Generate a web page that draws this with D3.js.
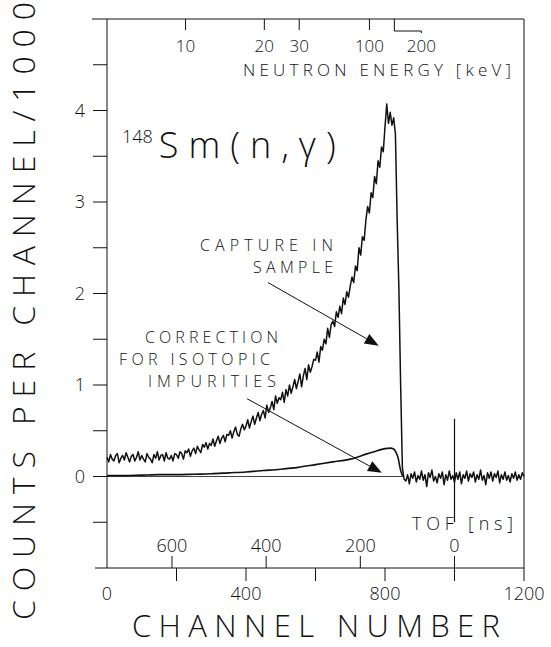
<!DOCTYPE html>
<html>
<head>
<meta charset="utf-8">
<script src="https://cdn.jsdelivr.net/npm/d3@7"></script>
<style>
  body { margin: 0; background: #fff; }
  svg text { font-family: "Open Sans", "DejaVu Sans", sans-serif; font-weight: 300; fill: #111; }
</style>
</head>
<body>
<div id="chart"></div>
<script>
// 148Sm(n,γ) TOF spectrum – capture in sample vs. isotopic-impurity correction

/* ── Data ── */
const CH_STEP = 5;   // capture spectrum sampled every 5 channels, 0..1200
const CAPTURE = [
  // 0 – 195
  0.21,0.16,0.24,0.19,0.17,0.23,0.25,0.15,0.20,0.23,
  0.18,0.26,0.21,0.16,0.22,0.24,0.17,0.21,0.27,0.18,
  0.23,0.19,0.16,0.25,0.21,0.19,0.15,0.24,0.20,0.27,
  0.18,0.23,0.24,0.17,0.26,0.20,0.19,0.23,0.17,0.25,
  // 200 – 395
  0.24,0.20,0.27,0.25,0.19,0.28,0.26,0.30,0.22,0.28,
  0.31,0.25,0.33,0.29,0.26,0.35,0.32,0.37,0.30,0.36,
  0.34,0.41,0.33,0.39,0.44,0.36,0.42,0.45,0.38,0.46,
  0.45,0.50,0.42,0.49,0.54,0.46,0.44,0.52,0.57,0.51,
  // 400 – 595
  0.55,0.62,0.53,0.60,0.66,0.57,0.64,0.70,0.61,0.68,
  0.72,0.64,0.78,0.70,0.75,0.82,0.73,0.88,0.80,0.86,
  0.84,0.92,0.81,0.95,0.88,1.00,0.91,0.98,1.06,0.96,
  1.04,1.12,0.98,1.10,1.18,1.06,1.22,1.14,1.20,1.28,
  // 600 – 795
  1.27,1.36,1.25,1.42,1.38,1.50,1.45,1.62,1.52,1.66,
  1.70,1.64,1.80,1.74,1.86,1.78,1.95,1.88,2.02,1.96,
  2.08,2.18,2.12,2.30,2.25,2.50,2.42,2.62,2.58,2.80,
  2.95,2.88,3.10,3.05,3.28,3.20,3.45,3.38,3.60,3.55,
  // 800 – 855
  3.82,4.07,3.86,3.98,3.84,3.92,3.74,2.80,2.05,1.00,0.10,-0.03,
  // 860 – 1200
  -0.05,0.02,-0.08,0.03,-0.02,0.05,-0.06,0.01,-0.03,0.06,
  -0.04,0.02,-0.11,0.04,-0.01,0.07,-0.05,0.00,-0.07,0.03,
  -0.02,0.05,-0.09,0.02,-0.04,0.06,-0.03,0.01,-0.06,0.04,
  -0.03,0.05,-0.08,0.02,-0.02,0.06,-0.05,0.03,-0.01,0.05,
  -0.06,0.02,-0.03,0.07,-0.04,0.01,-0.09,0.04,-0.02,0.05,
  -0.05,0.03,-0.01,0.06,-0.07,0.02,-0.03,0.05,-0.04,0.01,
  -0.06,0.03,-0.02,0.05,-0.04,0.02,-0.03,0.04,0.00
];
// gamma flash at TOF = 0 (channel 1000)
const FLASH_CH = 1000;
const FLASH_RANGE = [0.63, -0.50];

const CORR_CH  = [0, 50, 100, 150, 200, 250, 300, 350, 400, 450, 500, 550, 600, 650, 700, 750, 780, 800, 815, 825, 832, 838, 843, 848, 852];
const CORR_VAL = [0.01, 0.01, 0.015, 0.02, 0.02, 0.025, 0.03, 0.04, 0.05, 0.065, 0.08, 0.10, 0.13, 0.16, 0.19, 0.25, 0.285, 0.305, 0.31, 0.30, 0.26, 0.20, 0.10, 0.03, 0.0];

/* ── Axes ticks ── */
const CH_TICKS    = [0, 200, 400, 600, 800, 1000, 1200];
const CH_LABELS   = [0, 400, 800, 1200];
const Y_TICKS     = d3.range(-1, 5.01, 0.5);
const Y_LABELS    = [0, 1, 2, 3, 4];
const TOF_TICKS   = [600, 400, 200, 0];            // ns
const E_TICKS     = [10, 20, 30, 100, 200];        // keV
const CH_PER_NS   = 1.355;
const TOF0_CH     = 1000;
const FLIGHT_PATH = 0.79;                          // m

/* ── Layout ── */
const totalW = 551, totalH = 647;
const X0 = 107, X1 = 524, Y0 = 568, Y1 = 19;

const svg = d3.select("#chart").append("svg")
  .attr("width", totalW).attr("height", totalH);

const x = d3.scaleLinear().domain([0, 1200]).range([X0, X1]);
const y = d3.scaleLinear().domain([-1, 5]).range([Y0, Y1]);

// TOF (ns) → channel, neutron energy (keV) → TOF (ns)
const tofToCh = t => TOF0_CH - t * CH_PER_NS;
const energyToTof = e => 72.3 * FLIGHT_PATH / Math.sqrt(e / 1000);

const ink = "#111";

/* ── Frame ── */
const frame = svg.append("g").attr("stroke", ink).attr("stroke-width", 1).attr("fill", "none");
frame.append("line").attr("x1", X0).attr("x2", X0).attr("y1", Y1).attr("y2", Y0);
frame.append("line").attr("x1", X1).attr("x2", X1).attr("y1", Y1).attr("y2", Y0 + 13);
frame.append("line").attr("x1", X0 - 15).attr("x2", X1).attr("y1", Y1).attr("y2", Y1);
frame.append("line").attr("x1", X0 - 12).attr("x2", X1).attr("y1", Y0).attr("y2", Y0);

/* ── Left axis ── */
Y_TICKS.filter(v => v > -1 && v < 5).forEach(v => {
  frame.append("line").attr("x1", X0 - 14).attr("x2", X0).attr("y1", y(v)).attr("y2", y(v));
});
svg.append("g").selectAll("text").data(Y_LABELS).join("text")
  .attr("x", 80).attr("y", d => y(d) + 6)
  .attr("text-anchor", "middle").attr("font-size", 18)
  .text(d => d);

/* ── Bottom axis: channel number (ticks down) ── */
CH_TICKS.filter(c => c > 0 && c < 1200).forEach(c => {
  frame.append("line").attr("x1", x(c)).attr("x2", x(c)).attr("y1", Y0).attr("y2", Y0 + 13);
});
svg.append("g").selectAll("text").data(CH_LABELS).join("text")
  .attr("x", d => x(d)).attr("y", 600)
  .attr("text-anchor", "middle").attr("font-size", 18)
  .text(d => d);

/* ── TOF axis (ticks up from the bottom) ── */
TOF_TICKS.forEach(t => {
  frame.append("line").attr("x1", x(tofToCh(t))).attr("x2", x(tofToCh(t)))
    .attr("y1", Y0).attr("y2", Y0 - 12);
});
svg.append("g").selectAll("text").data(TOF_TICKS).join("text")
  .attr("x", d => x(tofToCh(d))).attr("y", 552)
  .attr("text-anchor", "middle").attr("font-size", 18)
  .text(d => d);
svg.append("text").attr("x", 412).attr("y", 530).attr("font-size", 18)
  .attr("textLength", 101).attr("lengthAdjust", "spacing")
  .text("TOF [ns]");

/* ── Top axis: neutron energy ── */
E_TICKS.forEach(e => {
  const px = x(tofToCh(energyToTof(e)));
  if (e === 200) {
    // label crowded against 100 keV → dog-leg tick
    frame.append("path").attr("d", `M${px},${Y1}V${Y1 + 12}H${px + 27}V${Y1 + 14}`);
  } else {
    frame.append("line").attr("x1", px).attr("x2", px).attr("y1", Y1).attr("y2", Y1 + 11);
  }
  svg.append("text").attr("x", e === 200 ? px + 27 : px).attr("y", 52)
    .attr("text-anchor", "middle").attr("font-size", 17)
    .text(e);
});
svg.append("text").attr("x", 243).attr("y", 76).attr("font-size", 17)
  .attr("textLength", 268).attr("lengthAdjust", "spacing")
  .text("NEUTRON ENERGY [keV]");

/* ── Axis titles ── */
svg.append("text").attr("transform", "translate(35,311) rotate(-90)")
  .attr("text-anchor", "middle").attr("font-size", 32)
  .attr("textLength", 618).attr("lengthAdjust", "spacing")
  .text("COUNTS PER CHANNEL/1000");

svg.append("text").attr("x", 132).attr("y", 637).attr("font-size", 31)
  .attr("textLength", 368).attr("lengthAdjust", "spacing")
  .text("CHANNEL NUMBER");

/* ── Zero line ── */
svg.append("line").attr("x1", x(0)).attr("x2", x(850)).attr("y1", y(0)).attr("y2", y(0))
  .attr("stroke", ink).attr("stroke-width", 0.8);

/* ── Correction curve ── */
const corr = CORR_CH.map((c, i) => ({ c, v: CORR_VAL[i] }));
svg.append("path").datum(corr)
  .attr("fill", "none").attr("stroke", ink).attr("stroke-width", 1.6)
  .attr("d", d3.line().x(d => x(d.c)).y(d => y(d.v)).curve(d3.curveMonotoneX));

/* ── Capture spectrum ── */
const capture = CAPTURE.map((v, i) => ({ c: i * CH_STEP, v }));
svg.append("path").datum(capture)
  .attr("fill", "none").attr("stroke", ink).attr("stroke-width", 1.5)
  .attr("stroke-linejoin", "round")
  .attr("d", d3.line().x(d => x(d.c)).y(d => y(d.v)));

svg.append("line").attr("x1", x(FLASH_CH)).attr("x2", x(FLASH_CH))
  .attr("y1", y(FLASH_RANGE[0])).attr("y2", y(FLASH_RANGE[1]))
  .attr("stroke", ink).attr("stroke-width", 1.2);

/* ── Title ── */
const title = svg.append("text").attr("x", 122).attr("y", 158);
title.append("tspan").attr("font-size", 18).attr("dy", -15).text("148");
title.append("tspan").attr("font-size", 36).attr("dy", 15).attr("dx", 6)
  .attr("textLength", 177).attr("lengthAdjust", "spacing").text("Sm(n,γ)");

/* ── Annotations with arrows ── */
const ANNOT = [
  { lines: [["CAPTURE IN", 200, 251, 133], ["SAMPLE", 253, 273, 80]],
    from: [463, 2.12], to: [782, 1.43] },
  { lines: [["CORRECTION", 145, 343, 133], ["FOR ISOTOPIC", 119, 365, 151], ["IMPURITIES", 148, 387, 128]],
    from: [403, 0.85], to: [791, 0.04] }
];
ANNOT.forEach(a => {
  a.lines.forEach(([t, lx, ly, len]) => {
    svg.append("text").attr("x", lx).attr("y", ly).attr("font-size", 16)
      .attr("textLength", len).attr("lengthAdjust", "spacing").text(t);
  });
  const x1 = x(a.from[0]), y1 = y(a.from[1]), x2 = x(a.to[0]), y2 = y(a.to[1]);
  const ang = Math.atan2(y2 - y1, x2 - x1);
  const L = 14, W = 5.5;
  const bx = x2 - L * Math.cos(ang), by = y2 - L * Math.sin(ang);
  svg.append("line").attr("x1", x1).attr("y1", y1).attr("x2", bx).attr("y2", by)
    .attr("stroke", ink).attr("stroke-width", 1);
  svg.append("path")
    .attr("d", `M${x2},${y2}L${bx - W * Math.sin(ang)},${by + W * Math.cos(ang)}L${bx + W * Math.sin(ang)},${by - W * Math.cos(ang)}Z`)
    .attr("fill", ink);
});
</script>
</body>
</html>
